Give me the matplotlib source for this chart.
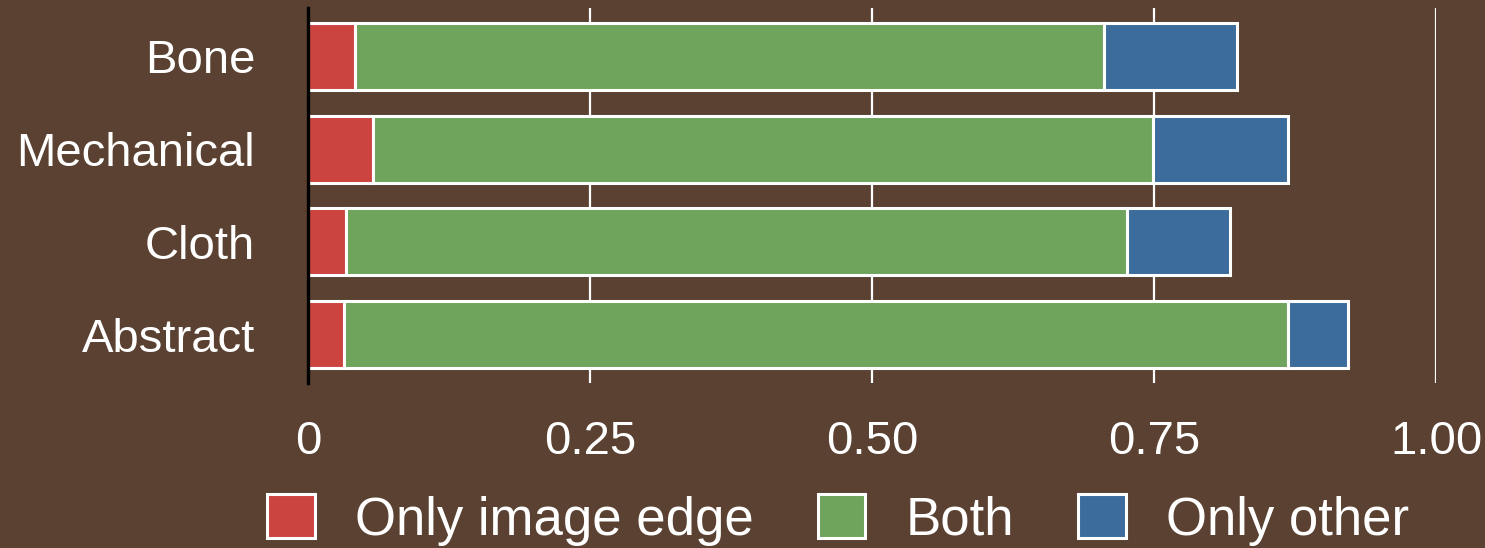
import numpy as np
import matplotlib
matplotlib.use("Agg")
import matplotlib.pyplot as plt
from matplotlib.patches import Patch

categories = ["Bone", "Mechanical", "Cloth", "Abstract"]
only_image_edge = [0.042, 0.058, 0.034, 0.032]
both = [0.664, 0.691, 0.692, 0.837]
only_other = [0.118, 0.120, 0.091, 0.053]
series_names = ["Only image edge", "Both", "Only other"]
xticks = [0, 0.25, 0.50, 0.75, 1.00]
xtick_labels = ["0", "0.25", "0.50", "0.75", "1.00"]

bg = "#5A4131"
colors = ["#CC4440", "#6EA45B", "#3C6C9C"]

plt.rcParams['font.family'] = ['Liberation Sans', 'DejaVu Sans']

fig = plt.figure(figsize=(14.85, 5.48), dpi=100, facecolor=bg)
ax = fig.add_axes([308 / 1485, 165 / 548, 1128 / 1485, 375 / 548])
ax.set_facecolor(bg)

y = np.arange(len(categories))
left = np.zeros(len(categories))
for vals, c in zip([only_image_edge, both, only_other], colors):
    ax.barh(y, vals, left=left, height=0.72, color=c, edgecolor="white",
            linewidth=2.2, zorder=3)
    left = left + np.array(vals)

ax.set_ylim(3.52, -0.52)
ax.set_xlim(0, 1.0)
ax.set_yticks(y)
ax.set_yticklabels(categories)
ax.set_xticks(xticks)
ax.set_xticklabels(xtick_labels)
ax.tick_params(axis="both", length=0, colors="white", labelsize=34)
ax.tick_params(axis="y", pad=38)
ax.tick_params(axis="x", pad=27)
ax.grid(axis="x", color="white", linewidth=1.6, zorder=0)
ax.set_axisbelow(True)
for s in ["top", "right", "bottom"]:
    ax.spines[s].set_visible(False)
ax.spines["left"].set_color("black")
ax.spines["left"].set_linewidth(2.4)
ax.spines["left"].set_zorder(4)

handles = [Patch(facecolor=c, edgecolor="white", linewidth=2.2) for c in colors]
leg = fig.legend(handles, series_names, loc="center", bbox_to_anchor=(838 / 1485, 28 / 548),
                 ncol=3, frameon=False, fontsize=38, handlelength=0.9, handleheight=0.9,
                 handletextpad=0.76, columnspacing=1.22, borderpad=0, borderaxespad=0)
for t in leg.get_texts():
    t.set_color("white")

fig.savefig("out.png", dpi=100, facecolor=bg)
